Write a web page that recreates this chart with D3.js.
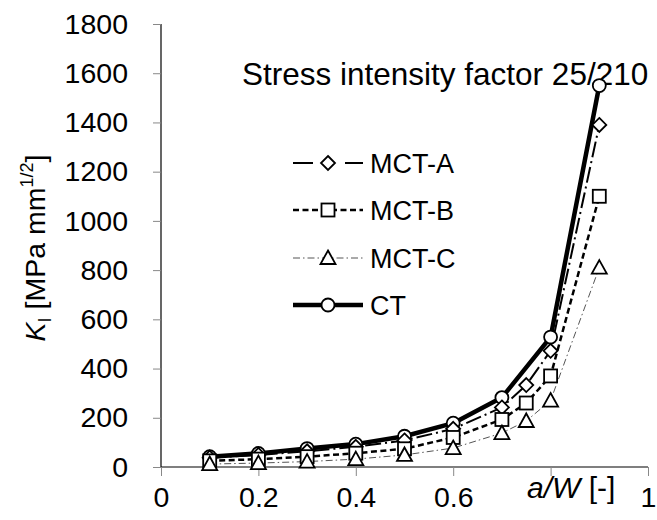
<!DOCTYPE html>
<html>
<head>
<meta charset="utf-8">
<script src="https://cdn.jsdelivr.net/npm/d3@7"></script>
<style>
  html, body { margin: 0; padding: 0; background: #fff; }
  svg { display: block; font-family: Arial, "Liberation Sans", sans-serif; }
</style>
</head>
<body>
<svg id="chart" width="657" height="520"></svg>
<script>
// ---- data ----
const xCT   = [0.1, 0.2, 0.3, 0.4, 0.5, 0.6, 0.7, 0.8, 0.9];
const kCT   = [42, 55, 75, 93, 125, 178, 282, 528, 1550];
const xMCT  = [0.1, 0.2, 0.3, 0.4, 0.5, 0.6, 0.7, 0.75, 0.8, 0.9];
const kMCTA = [38, 49, 64, 82, 108, 155, 242, 333, 472, 1390];
const kMCTB = [25, 32, 42, 56, 74, 120, 193, 260, 370, 1100];
const kMCTC = [12, 16, 22, 32, 49, 77, 138, 187, 270, 810];
const seriesNames = ["MCT-A", "MCT-B", "MCT-C", "CT"];
const xTickValues = [0, 0.2, 0.4, 0.6, 1];
const yTickValues = [0, 200, 400, 600, 800, 1000, 1200, 1400, 1600, 1800];
const chartTitle = "Stress intensity factor 25/210";

// ---- layout ----
const svg = d3.select("#chart");
const x = d3.scaleLinear().domain([0, 1]).range([161, 648]);
const y = d3.scaleLinear().domain([0, 1800]).range([467, 24]);
const FONT = "Arial, 'Liberation Sans', sans-serif";

const styles = {
  "MCT-A": { width: 2, dash: "16,4,2,4", color: "#000", marker: "diamond" },
  "MCT-B": { width: 2.5, dash: "6,3.5", color: "#000", marker: "square" },
  "MCT-C": { width: 1, dash: "7,3,1.5,3", color: "#555", marker: "triangle" },
  "CT":    { width: 4.5, dash: null, color: "#000", marker: "circle" }
};
const series = [
  { name: "MCT-A", xs: xMCT, ys: kMCTA },
  { name: "MCT-B", xs: xMCT, ys: kMCTB },
  { name: "MCT-C", xs: xMCT, ys: kMCTC },
  { name: "CT",    xs: xCT,  ys: kCT }
];

// ---- axes ----
const yAxis = d3.axisLeft(y).tickValues(yTickValues).tickSize(8).tickFormat(d3.format("d"));
const gy = svg.append("g").attr("transform", "translate(161,0)").call(yAxis);
gy.select(".domain").attr("stroke", "#000").attr("stroke-width", 1.2).attr("d", "M0,24V467");
gy.selectAll(".tick line").attr("stroke", "#888");
gy.selectAll(".tick text").attr("font-size", 28.5).attr("fill", "#000").attr("x", -33)
  .attr("font-family", FONT);

const xAxis = d3.axisBottom(x).tickValues([0, 0.2, 0.4, 0.6, 0.8, 1]).tickSize(9)
  .tickFormat(d => xTickValues.includes(d) ? d3.format("")(d) : "");
const gx = svg.append("g").attr("transform", "translate(0,467)").call(xAxis);
gx.select(".domain").attr("stroke", "#000").attr("stroke-width", 1.2).attr("d", "M161,0H648");
gx.selectAll(".tick line").attr("stroke", "#888");
gx.selectAll(".tick text").attr("font-size", 28.5).attr("fill", "#000").attr("dy", null).attr("y", 40)
  .attr("font-family", FONT);

// x axis title
const xt = svg.append("text").attr("x", 527).attr("y", 498).attr("font-size", 30).attr("font-family", FONT);
xt.append("tspan").attr("font-style", "italic").text("a/W");
xt.append("tspan").text(" [-]");

// y axis title
const yt = svg.append("text")
  .attr("transform", "translate(45,248) rotate(-90)")
  .attr("text-anchor", "middle").attr("font-size", 28.5).attr("font-family", FONT);
yt.append("tspan").attr("font-style", "italic").text("K");
yt.append("tspan").attr("font-size", 18).attr("dy", 6).text("I");
yt.append("tspan").attr("dy", -6).text(" [MPa mm");
yt.append("tspan").attr("font-size", 18).attr("dy", -12).text("1/2");
yt.append("tspan").attr("dy", 12).text("]");

// chart title
svg.append("text").attr("x", 242).attr("y", 85).attr("font-size", 31.5).attr("font-family", FONT).text(chartTitle);

// ---- marker drawing ----
function drawMarker(g, type) {
  const common = s => s.attr("fill", "#fff").attr("stroke", "#000").attr("stroke-width", 1.8);
  if (type === "circle") common(g.append("circle").attr("r", 6.5));
  else if (type === "square") common(g.append("rect").attr("x", -6.5).attr("y", -6.5).attr("width", 13).attr("height", 13));
  else if (type === "diamond") common(g.append("path").attr("d", "M0,-7L7,0L0,7L-7,0Z"));
  else if (type === "triangle") common(g.append("path").attr("d", "M0,-7.5L7.5,6L-7.5,6Z"));
}

// ---- lines ----
const line = d3.line().x(d => x(d[0])).y(d => y(d[1]));
const lineOrder = ["MCT-C", "MCT-B", "MCT-A", "CT"];
lineOrder.forEach(n => {
  const s = series.find(d => d.name === n);
  const st = styles[n];
  svg.append("path")
    .datum(d3.zip(s.xs, s.ys))
    .attr("d", line)
    .attr("fill", "none")
    .attr("stroke", st.color)
    .attr("stroke-width", st.width)
    .attr("stroke-dasharray", st.dash)
    .attr("stroke-linejoin", "round");
});

// markers (CT beneath, MCT-C on top)
const markerOrder = ["CT", "MCT-A", "MCT-B", "MCT-C"];
markerOrder.forEach(n => {
  const s = series.find(d => d.name === n);
  d3.zip(s.xs, s.ys).forEach(p => {
    const g = svg.append("g").attr("transform", `translate(${x(p[0])},${y(p[1])})`);
    drawMarker(g, styles[n].marker);
  });
});

// ---- legend ----
const legendY = [163, 210, 258, 305];
const legendDash = { "MCT-A": "20,32,20", "MCT-B": "6,3.5", "MCT-C": "7,3,1.5,3", "CT": null };
seriesNames.forEach((n, i) => {
  const st = styles[n];
  const g = svg.append("g").attr("transform", `translate(0,${legendY[i]})`);
  g.append("line").attr("x1", 293).attr("x2", 363).attr("y1", 0).attr("y2", 0)
    .attr("stroke", st.color).attr("stroke-width", st.width).attr("stroke-dasharray", legendDash[n]);
  const m = g.append("g").attr("transform", "translate(328,0)");
  drawMarker(m, st.marker);
  g.append("text").attr("x", 370).attr("y", 9.5).attr("font-size", 27).attr("font-family", FONT).text(n);
});
</script>
</body>
</html>
